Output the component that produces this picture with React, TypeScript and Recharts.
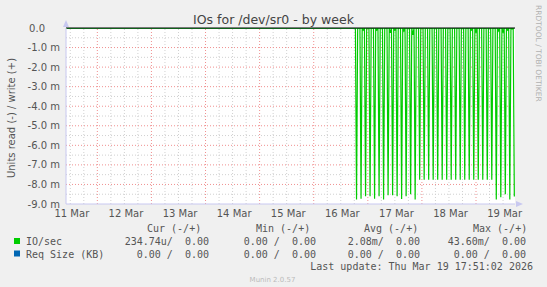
import React from "react";
import { LineChart, Line, XAxis, YAxis, ReferenceLine } from "recharts";

// hours counted from 11 Mar 00:00
const spikeHours = [
  139, 141, 143, 145, 147, 149, 151, 153, 155, 157, 159, 161, 163, 165, 167, 169, 171, 173,
  175, 177, 179, 181, 183, 185, 187, 189, 191, 193, 195, 197, 199, 201, 203, 205, 207, 209,
];
// read IOs (milli IO/sec, plotted negative)
const readDepths = [
  -8.77, -8.73, -8.6, -8.6, -8.73, -8.6, -8.77, -8.55, -8.55, -8.6, -8.75, -8.6, -8.5, -8.77,
  -7.76, -7.76, -7.76, -7.76, -7.76, -7.76, -7.76, -7.76, -7.76, -7.76, -7.76, -7.76, -7.76,
  -7.76, -7.76, -7.76, -7.76,
  -8.77, -8.66, -8.5, -8.77, -8.62,
];
const gapDips = [
  0, -0.1, 0, 0, -0.1, 0, 0, -0.25, -0.1, 0, -0.15, 0, -0.35, 0, 0, 0, 0, 0,
  0, 0, 0, 0, 0, 0, 0, -0.1, -0.2, 0, 0, 0, 0, -0.15, -0.2, -0.1, -0.05,
];
const dayLabels = ["11 Mar", "12 Mar", "13 Mar", "14 Mar", "15 Mar", "16 Mar", "17 Mar", "18 Mar", "19 Mar"];
const labelHours = [12.7, 36.7, 60.7, 84.7, 108.7, 132.7, 156.7, 180.7, 204.7];
const yTicks = [0, -1, -2, -3, -4, -5, -6, -7, -8, -9];

const legendRows = [
  { name: "IO/sec", color: "#00cc00", cur: "234.74u/  0.00", min: "0.00 /  0.00", avg: "2.08m/  0.00", max: "43.60m/  0.00" },
  { name: "Req Size (KB)", color: "#0066b3", cur: "0.00 /  0.00", min: "0.00 /  0.00", avg: "0.00 /  0.00", max: "0.00 /  0.00" },
];

type Row = { h: number; read: number; write: number; req: number };
const data: Row[] = [
  { h: 10, read: 0, write: 0, req: 0 },
  { h: 138.5, read: 0, write: 0, req: 0 },
];
spikeHours.forEach((t, i) => {
  data.push({ h: t, read: readDepths[i], write: 0, req: 0 });
  if (i < spikeHours.length - 1) {
    data.push({ h: t + 0.5, read: 0, write: 0, req: 0 });
    data.push({ h: t + 1, read: gapDips[i], write: 0, req: 0 });
    data.push({ h: t + 1.5, read: 0, write: 0, req: 0 });
  }
});

const minorX: number[] = [];
for (let h = 12; h < 210; h += 6) if (h % 24 !== 0) minorX.push(h);
const majorX = [24, 48, 72, 96, 120, 144, 168, 192];
const minorY = [-0.5, -1.5, -2.5, -3.5, -4.5, -5.5, -6.5, -7.5, -8.5];
const majorY = [-1, -2, -3, -4, -5, -6, -7, -8];

const FONT = "'DejaVu Sans', sans-serif";
const MONO = "'DejaVu Sans Mono', monospace";
const AXIS = "#c8c8f0";

const YTick = (props: any) => {
  const { x, y, payload } = props;
  const v = payload.value as number;
  const label = v === 0 ? "0.0" : `${v.toFixed(1)} m`;
  return (
    <text x={v === 0 ? x - 15 : x} y={y} dy={3.5} textAnchor="end" fontSize={10} fontFamily={FONT} fill="#555">
      {label}
    </text>
  );
};

export default function App() {
  return (
    <div style={{ position: "absolute", left: 0, top: 0, width: 547, height: 287, background: "#f0f0f0", overflow: "hidden" }}>
      <div style={{ position: "absolute", left: 66, top: 28, width: 449, height: 176, background: "#ffffff" }} />
      <div style={{ position: "absolute", left: 0, top: 0 }}>
        <LineChart width={547} height={287} data={data} margin={{ top: 28, right: 32, left: 6, bottom: 53 }}>
          <XAxis
            type="number"
            dataKey="h"
            domain={[10.1, 209.3]}
            allowDataOverflow
            ticks={labelHours}
            tickFormatter={(v: number) => dayLabels[labelHours.indexOf(v)] ?? ""}
            tickLine={false}
            axisLine={{ stroke: AXIS }}
            height={30}
            tickSize={4}
            tickMargin={2}
            tick={{ fontSize: 10, fontFamily: FONT, fill: "#555" }}
            interval={0}
          />
          <YAxis
            type="number"
            domain={[-9, 0]}
            ticks={yTicks}
            allowDataOverflow
            width={60}
            tickLine={false}
            axisLine={{ stroke: AXIS }}
            tickSize={4}
            tickMargin={2}
            tick={<YTick />}
            interval={0}
          />
          {minorY.map((y) => (
            <ReferenceLine key={"my" + y} y={y} stroke="#d0d0d0" strokeDasharray="1 2" />
          ))}
          {minorX.map((x) => (
            <ReferenceLine key={"mx" + x} x={x} stroke="#d0d0d0" strokeDasharray="1 2" />
          ))}
          {majorY.map((y) => (
            <ReferenceLine key={"My" + y} y={y} stroke="#f09090" strokeDasharray="1 2" />
          ))}
          {majorX.map((x) => (
            <ReferenceLine key={"Mx" + x} x={x} stroke="#f09090" strokeDasharray="1 2" />
          ))}
          <Line dataKey="req" type="linear" stroke="#0066b3" strokeWidth={1} dot={false} isAnimationActive={false} />
          <Line dataKey="write" type="linear" stroke="#00cc00" strokeWidth={1} dot={false} isAnimationActive={false} />
          <Line dataKey="read" type="linear" stroke="#00cc00" strokeWidth={1.2} dot={false} isAnimationActive={false} />
          <ReferenceLine y={0} stroke="#000000" strokeWidth={1} />
        </LineChart>
      </div>
      <svg width={547} height={287} style={{ position: "absolute", left: 0, top: 0, pointerEvents: "none" }}>
        <polygon points="63,27 69,27 66,20" fill={AXIS} />
        <polygon points="516,201 516,207 523,204" fill={AXIS} />
        <text x={273.5} y={24} textAnchor="middle" fontSize={12.5} fontFamily={FONT} fill="#444">
          IOs for /dev/sr0 - by week
        </text>
        <text x={11} y={118} transform="rotate(-90 11 118)" textAnchor="middle" dy={3.5} fontSize={10} fontFamily={FONT} fill="#555">
          Units read (-) / write (+)
        </text>
        <text x={536} y={5} transform="rotate(90 536 5)" textAnchor="start" fontSize={7.5} fontFamily={FONT} fill="#b0b0b0">
          RRDTOOL / TOBI OETIKER
        </text>
        <g fontFamily={MONO} fontSize={10} fill="#555">
          <text x={147} y={232} xmlSpace="preserve">Cur (-/+)</text>
          <text x={256} y={232} xmlSpace="preserve">Min (-/+)</text>
          <text x={364} y={232} xmlSpace="preserve">Avg (-/+)</text>
          <text x={473} y={232} xmlSpace="preserve">Max (-/+)</text>
          {legendRows.map((r, i) => {
            const y = 245 + i * 12.5;
            return (
              <g key={r.name}>
                <rect x={14} y={y - 7} width={6} height={6} fill={r.color} />
                <text x={26} y={y} xmlSpace="preserve">{r.name}</text>
                <text x={209} y={y} textAnchor="end" xmlSpace="preserve">{r.cur}</text>
                <text x={316} y={y} textAnchor="end" xmlSpace="preserve">{r.min}</text>
                <text x={420} y={y} textAnchor="end" xmlSpace="preserve">{r.avg}</text>
                <text x={526} y={y} textAnchor="end" xmlSpace="preserve">{r.max}</text>
              </g>
            );
          })}
          <text x={533} y={270} textAnchor="end" xmlSpace="preserve">Last update: Thu Mar 19 17:51:02 2026</text>
        </g>
        <text x={272.5} y={282} textAnchor="middle" fontSize={7} fontFamily={FONT} fill="#bbbbbb">
          Munin 2.0.57
        </text>
      </svg>
    </div>
  );
}
